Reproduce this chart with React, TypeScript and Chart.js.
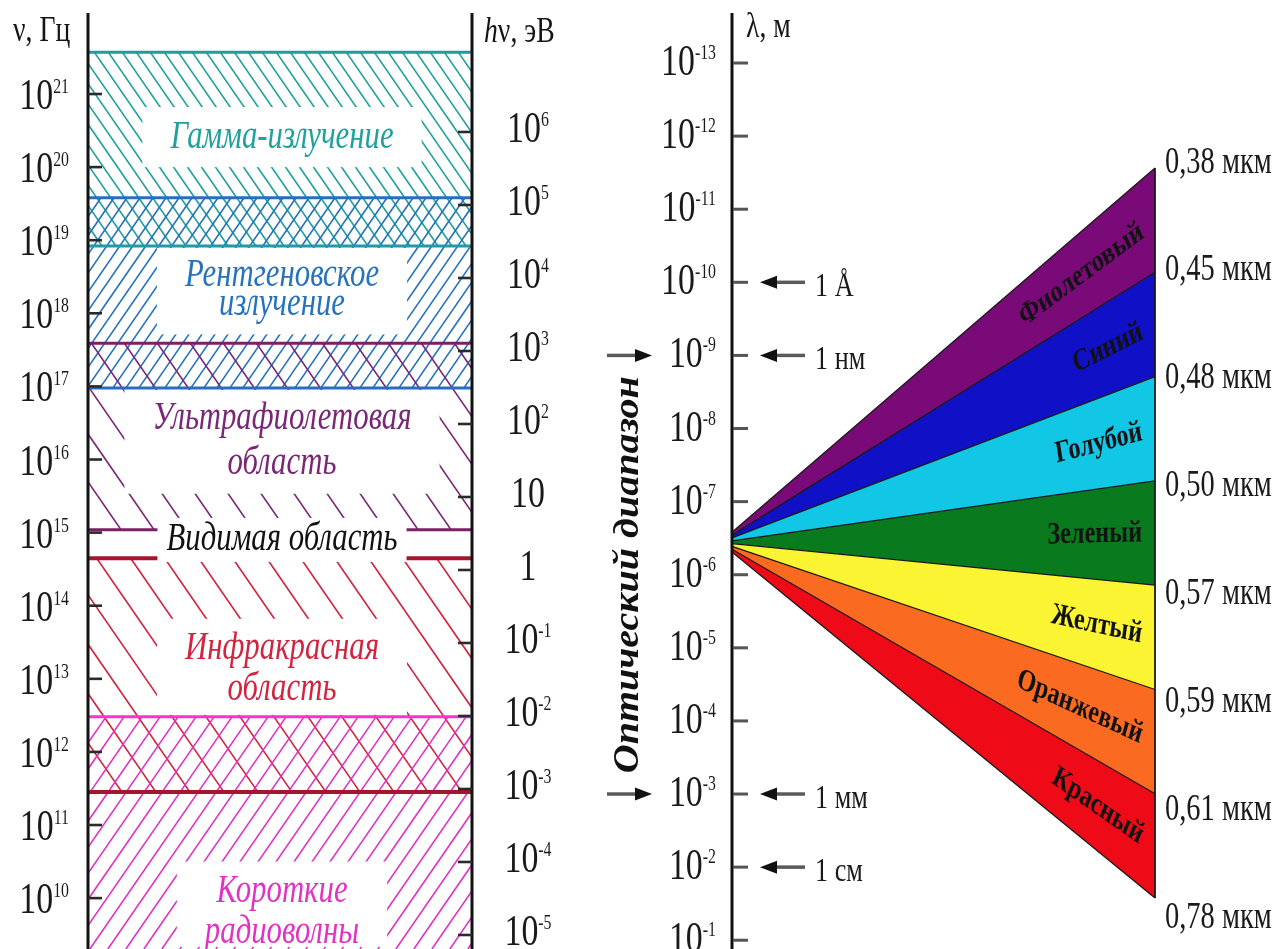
import React, { useEffect, useRef } from "react";
import { Chart, registerables } from "chart.js";

Chart.register(...registerables);

const WIDTH = 1280;
const HEIGHT = 949;

// ---------------- data ----------------
// frequency axis ticks: log10(ν / Гц)
const NU_TICKS = [21, 20, 19, 18, 17, 16, 15, 14, 13, 12, 11, 10];
// photon energy axis ticks: log10(hν / эВ)
const HV_TICKS = [6, 5, 4, 3, 2, 1, 0, -1, -2, -3, -4, -5];
// wavelength axis ticks: log10(λ / м)
const LAMBDA_TICKS = [-13, -12, -11, -10, -9, -8, -7, -6, -5, -4, -3, -2, -1];

// spectral bands on the frequency axis (log10 ν)
const BAND_NAMES = [
  ["Гамма-излучение"],
  ["Рентгеновское", "излучение"],
  ["Ультрафиолетовая", "область"],
  ["Видимая область"],
  ["Инфракрасная", "область"],
  ["Короткие", "радиоволны"],
];
const BAND_NU_HIGH = [21.57, 19.58, 17.59, 15.04, 14.65, 12.48];
const BAND_NU_LOW = [18.92, 16.98, 15.04, 14.65, 11.45, 8.8];
const BAND_LABEL_NU = [20.41, 18.32, 16.25, 14.9, 13.13, 9.81];

// visible colours fan
const COLOR_NAMES = ["Фиолетовый", "Синий", "Голубой", "Зеленый", "Желтый", "Оранжевый", "Красный"];
const EDGE_MICRONS = [0.38, 0.45, 0.48, 0.5, 0.57, 0.59, 0.61, 0.78];
const EDGE_LABELS = EDGE_MICRONS.map((v) => v.toFixed(2).replace(".", ",") + " мкм");
const FAN_APEX_LAMBDA = [-6.58, -6.31]; // where the fan meets the λ axis (top edge, bottom edge)

// reference marks on the λ axis
const MARKER_EXP = [-10, -9, -3, -2];
const MARKER_LABELS = ["1 Å", "1 нм", "1 мм", "1 см"];
const OPTICAL_RANGE = [-9, -3];
const OPTICAL_LABEL = "Оптический диапазон";

// ---------------- styles / layout ----------------
const BAND_COLORS = ["#1fa19d", "#2672bd", "#7a2676", "#111111", "#d2233f", "#e032c3"];
const BAND_LINE_COLORS = ["#1e9aa8", "#2a6cc0", "#7c1f66", "#111111", "#a3162e", "#ff30cf"];
const BAND_LINE_WIDTH = [3, 3, 3, 0, 4, 3];
const BAND_HATCH_DIR = [-1, 1, -1, 0, -1, 1];
const BAND_HATCH_GAP = [14, 13, 33, 0, 34, 18];
const BAND_LABEL_LEAD = [0, 29, 45, 0, 41, 41];
const VISIBLE_INDEX = 3;
const FAN_FILLS = ["#7a0a78", "#1010c6", "#12c6e6", "#0a7a1e", "#fbf432", "#fa6a20", "#ee0a16"];

const NU_AXIS_X = 88;
const HV_AXIS_X = 472;
const LAMBDA_AXIS_X = 732;
const FAN_RIGHT_X = 1155;
const LABEL_X = 282;

const SERIF = "'Liberation Serif', 'Times New Roman', 'DejaVu Serif', serif";
const SX = 0.77;
const BASE_FONT = `44px ${SERIF}`;
const EXP_FONT = `22px ${SERIF}`;
const EXP_SX = 0.72;

type Align = "left" | "right" | "center";

function drawText(
  ctx: CanvasRenderingContext2D,
  s: string,
  x: number,
  y: number,
  o: { font: string; color?: string; align?: Align; baseline?: CanvasTextBaseline; sx?: number; rot?: number }
) {
  ctx.save();
  ctx.translate(x, y);
  ctx.scale(o.sx ?? SX, 1);
  if (o.rot) ctx.rotate(o.rot);
  ctx.font = o.font;
  ctx.fillStyle = o.color ?? "#151515";
  ctx.textAlign = o.align ?? "left";
  ctx.textBaseline = o.baseline ?? "alphabetic";
  ctx.fillText(s, 0, 0);
  ctx.restore();
}

function textW(ctx: CanvasRenderingContext2D, s: string, font: string, sx = SX) {
  ctx.save();
  ctx.font = font;
  const w = ctx.measureText(s).width * sx;
  ctx.restore();
  return w;
}

function drawPower(ctx: CanvasRenderingContext2D, exp: number, x: number, y: number, align: Align, color = "#1a1a1a") {
  const base = exp === 0 ? "1" : "10";
  const sup = exp === 0 || exp === 1 ? "" : String(exp);
  const bw = textW(ctx, base, BASE_FONT);
  const ew = sup ? textW(ctx, sup, EXP_FONT, EXP_SX) : 0;
  const total = bw + ew;
  const left = align === "right" ? x - total : align === "center" ? x - total / 2 : x;
  drawText(ctx, base, left, y + 15, { font: BASE_FONT, color });
  if (sup) drawText(ctx, sup, left + bw, y - 1, { font: EXP_FONT, color, sx: EXP_SX });
}

function line(ctx: CanvasRenderingContext2D, x0: number, y0: number, x1: number, y1: number) {
  ctx.beginPath();
  ctx.moveTo(x0, y0);
  ctx.lineTo(x1, y1);
  ctx.stroke();
}

function hatch(
  ctx: CanvasRenderingContext2D,
  x0: number,
  x1: number,
  yTop: number,
  yBot: number,
  dir: number,
  gap: number,
  color: string
) {
  const slope = 1.45;
  ctx.save();
  ctx.beginPath();
  ctx.rect(x0, yTop, x1 - x0, yBot - yTop);
  ctx.clip();
  ctx.strokeStyle = color;
  ctx.lineWidth = 1.6;
  const run = (yBot - yTop) / slope;
  ctx.beginPath();
  for (let x = x0 - run - gap; x < x1 + gap; x += gap) {
    if (dir < 0) {
      ctx.moveTo(x, yTop);
      ctx.lineTo(x + run, yBot);
    } else {
      ctx.moveTo(x, yBot);
      ctx.lineTo(x + run, yTop);
    }
  }
  ctx.stroke();
  ctx.restore();
}

function arrow(ctx: CanvasRenderingContext2D, xFrom: number, xTo: number, y: number) {
  const dir = Math.sign(xTo - xFrom);
  const head = 17;
  const hw = 6.5;
  ctx.strokeStyle = "#5a5a5a";
  ctx.lineWidth = 3.5;
  line(ctx, xFrom, y, xTo - dir * head, y);
  ctx.fillStyle = "#111";
  ctx.beginPath();
  ctx.moveTo(xTo, y);
  ctx.lineTo(xTo - dir * head, y - hw);
  ctx.lineTo(xTo - dir * head, y + hw);
  ctx.closePath();
  ctx.fill();
}

const spectrumPlugin = {
  id: "spectrum",
  afterDraw(chart: any) {
    const ctx: CanvasRenderingContext2D = chart.ctx;
    const sc = chart.scales;
    const X = (v: number) => sc.x.getPixelForValue(v);
    const yNu = (v: number) => sc.nu.getPixelForValue(v);
    const yHv = (v: number) => sc.hv.getPixelForValue(v);
    const yLam = (v: number) => sc.lam.getPixelForValue(v);
    const yFan = (v: number) => sc.fan.getPixelForValue(v);
    const area = chart.chartArea;
    const bottom = area.bottom;
    const axisTop = area.top + 13;

    ctx.save();
    ctx.fillStyle = "#ffffff";
    ctx.fillRect(0, 0, chart.width, chart.height);

    const xl = X(NU_AXIS_X);
    const xr = X(HV_AXIS_X);
    const lx = X(LABEL_X);
    const n = BAND_NAMES.length;

    // ---- hatching ----
    for (let i = 0; i < n; i++) {
      if (!BAND_HATCH_DIR[i]) continue;
      hatch(ctx, xl, xr, yNu(BAND_NU_HIGH[i]), Math.min(bottom, yNu(BAND_NU_LOW[i])), BAND_HATCH_DIR[i], BAND_HATCH_GAP[i], BAND_COLORS[i]);
    }

    // ---- text blocks & white masks ----
    const labelFont = `italic 40px ${SERIF}`;
    const blocks = BAND_NAMES.map((lines, i) => {
      const cy = yNu(BAND_LABEL_NU[i]);
      const lead = BAND_LABEL_LEAD[i];
      const ys = lines.map((_, k) => cy + (k - (lines.length - 1) / 2) * lead);
      const w = Math.max(...lines.map((s) => textW(ctx, s, labelFont)));
      return { ys, w };
    });
    ctx.fillStyle = "#ffffff";
    blocks.forEach((b, i) => {
      if (i === VISIBLE_INDEX) return;
      let yt = b.ys[0] - 30;
      let yb = b.ys[b.ys.length - 1] + 30;
      const exTop = i > 0 ? Math.max(yNu(BAND_NU_HIGH[i]), yNu(BAND_NU_LOW[i - 1])) : yNu(BAND_NU_HIGH[i]);
      const exBot = i < n - 1 ? Math.min(yNu(BAND_NU_LOW[i]), yNu(BAND_NU_HIGH[i + 1])) : bottom;
      yt = Math.max(yt, exTop + 2);
      yb = Math.min(yb, exBot - 2);
      ctx.fillRect(lx - b.w / 2 - 28, yt, b.w + 56, yb - yt);
    });

    // ---- band boundary lines ----
    for (let i = 0; i < n; i++) {
      if (!BAND_LINE_WIDTH[i]) continue;
      ctx.strokeStyle = BAND_LINE_COLORS[i];
      ctx.lineWidth = BAND_LINE_WIDTH[i];
      [BAND_NU_HIGH[i], BAND_NU_LOW[i]].forEach((v) => {
        const y = yNu(v);
        if (y > bottom) return;
        line(ctx, xl, y, xr, y);
      });
    }
    // gap for the visible-range label
    {
      const b = blocks[VISIBLE_INDEX];
      ctx.fillStyle = "#ffffff";
      ctx.fillRect(lx - b.w / 2 - 9, b.ys[0] - 22, b.w + 18, 44);
    }
    // ---- band labels ----
    blocks.forEach((b, i) => {
      BAND_NAMES[i].forEach((s, k) => {
        drawText(ctx, s, lx, b.ys[k], { font: labelFont, color: BAND_COLORS[i], align: "center", baseline: "middle" });
      });
    });

    // ---- left axes ----
    ctx.strokeStyle = "#111";
    ctx.lineWidth = 3;
    line(ctx, xl, axisTop, xl, bottom);
    line(ctx, xr, axisTop, xr, bottom);
    ctx.strokeStyle = "#2a2a2a";
    ctx.lineWidth = 2.6;
    NU_TICKS.forEach((t) => line(ctx, xl, yNu(t), xl + 14, yNu(t)));
    HV_TICKS.forEach((t) => line(ctx, xr - 14, yHv(t), xr, yHv(t)));
    NU_TICKS.forEach((t) => drawPower(ctx, t, X(69), yNu(t), "right"));
    HV_TICKS.forEach((t) => drawPower(ctx, t, X(528), yHv(t) - 5, "center"));

    // axis titles
    drawText(ctx, "ν, Гц", X(13), 41, { font: `36px ${SERIF}` });
    const hW = textW(ctx, "h", `italic 36px ${SERIF}`);
    drawText(ctx, "h", X(484), 42, { font: `italic 36px ${SERIF}` });
    drawText(ctx, "ν, эВ", X(484) + hW, 42, { font: `36px ${SERIF}` });
    drawText(ctx, "λ, м", X(746), 37, { font: `36px ${SERIF}` });

    // ---- colour fan ----
    const ax = X(LAMBDA_AXIS_X);
    const fx = X(FAN_RIGHT_X);
    const m = EDGE_MICRONS.length;
    const L = EDGE_MICRONS.map((_, i) => yLam(FAN_APEX_LAMBDA[0] + ((FAN_APEX_LAMBDA[1] - FAN_APEX_LAMBDA[0]) * i) / (m - 1)));
    const R = EDGE_MICRONS.map((_, i) => yFan(i));
    for (let j = 0; j < m - 1; j++) {
      ctx.fillStyle = FAN_FILLS[j];
      ctx.beginPath();
      ctx.moveTo(ax, L[j]);
      ctx.lineTo(fx, R[j]);
      ctx.lineTo(fx, R[j + 1]);
      ctx.lineTo(ax, L[j + 1]);
      ctx.closePath();
      ctx.fill();
    }
    ctx.strokeStyle = "#1a1a1a";
    ctx.lineWidth = 1.3;
    for (let i = 0; i < m; i++) line(ctx, ax, L[i], fx, R[i]);
    ctx.lineWidth = 1.8;
    line(ctx, fx, R[0], fx, R[m - 1]);

    // fan labels
    const fanFont = `bold 31px ${SERIF}`;
    const fsx = 0.78;
    const tx = X(1142);
    for (let j = 0; j < m - 1; j++) {
      const ly = (L[j] + L[j + 1]) / 2;
      const ry = (R[j] + R[j + 1]) / 2;
      const t = (tx - ax) / (fx - ax);
      const py = ly + (ry - ly) * t;
      const rot = Math.atan2(ry - ly, (fx - ax) / fsx);
      drawText(ctx, COLOR_NAMES[j], tx, py, { font: fanFont, color: "#121212", align: "right", baseline: "middle", sx: fsx, rot });
    }
    // edge wavelength labels
    EDGE_LABELS.forEach((s, i) => {
      const y = R[i] + (i * 3.6 - 8);
      drawText(ctx, s, X(1165), y + 12.5, { font: `37px ${SERIF}`, color: "#1a1a1a" });
    });

    // ---- λ axis ----
    ctx.strokeStyle = "#111";
    ctx.lineWidth = 3;
    line(ctx, ax, axisTop, ax, bottom);
    ctx.strokeStyle = "#555";
    ctx.lineWidth = 3;
    LAMBDA_TICKS.forEach((t) => line(ctx, ax + 1, yLam(t), ax + 16, yLam(t)));
    LAMBDA_TICKS.forEach((t) => drawPower(ctx, t, X(716), yLam(t) - 3, "right"));

    // reference markers
    MARKER_EXP.forEach((e, i) => {
      const y = yLam(e);
      arrow(ctx, X(805), X(760), y);
      drawText(ctx, MARKER_LABELS[i], X(815), y + 14, { font: `34px ${SERIF}`, color: "#1a1a1a" });
    });
    OPTICAL_RANGE.forEach((e) => arrow(ctx, X(607), X(652), yLam(e)));
    const oy = yLam((OPTICAL_RANGE[0] + OPTICAL_RANGE[1]) / 2);
    drawText(ctx, OPTICAL_LABEL, X(629), oy, {
      font: `italic bold 40px ${SERIF}`,
      color: "#111",
      align: "center",
      baseline: "middle",
      sx: 0.88,
      rot: -Math.PI / 2,
    });

    ctx.restore();
  },
};

export default function App() {
  const ref = useRef<HTMLCanvasElement>(null);
  useEffect(() => {
    document.body.style.margin = "0";
    const canvas = ref.current;
    if (!canvas) return;
    const chart = new Chart(canvas, {
      type: "scatter",
      data: { datasets: [] },
      options: {
        responsive: false,
        animation: false,
        devicePixelRatio: 1,
        events: [],
        layout: { padding: 0 },
        plugins: { legend: { display: false }, tooltip: { enabled: false } },
        scales: {
          x: { type: "linear", min: 0, max: WIDTH, display: false },
          y: { type: "linear", min: 0, max: 1, display: false },
          nu: { type: "linear", axis: "y", min: 9.304, max: 22.286, display: false },
          hv: { type: "linear", axis: "y", min: -5.192, max: 7.808, display: false },
          lam: { type: "linear", axis: "y", reverse: true, min: -13.862, max: -0.88, display: false },
          fan: { type: "linear", axis: "y", reverse: true, min: -1.611, max: 7.488, display: false },
        },
      } as any,
      plugins: [spectrumPlugin as any],
    });
    return () => chart.destroy();
  }, []);
  return (
    <div style={{ width: WIDTH, height: HEIGHT, background: "#fff" }}>
      <canvas ref={ref} width={WIDTH} height={HEIGHT} style={{ display: "block", width: WIDTH, height: HEIGHT }} />
    </div>
  );
}
